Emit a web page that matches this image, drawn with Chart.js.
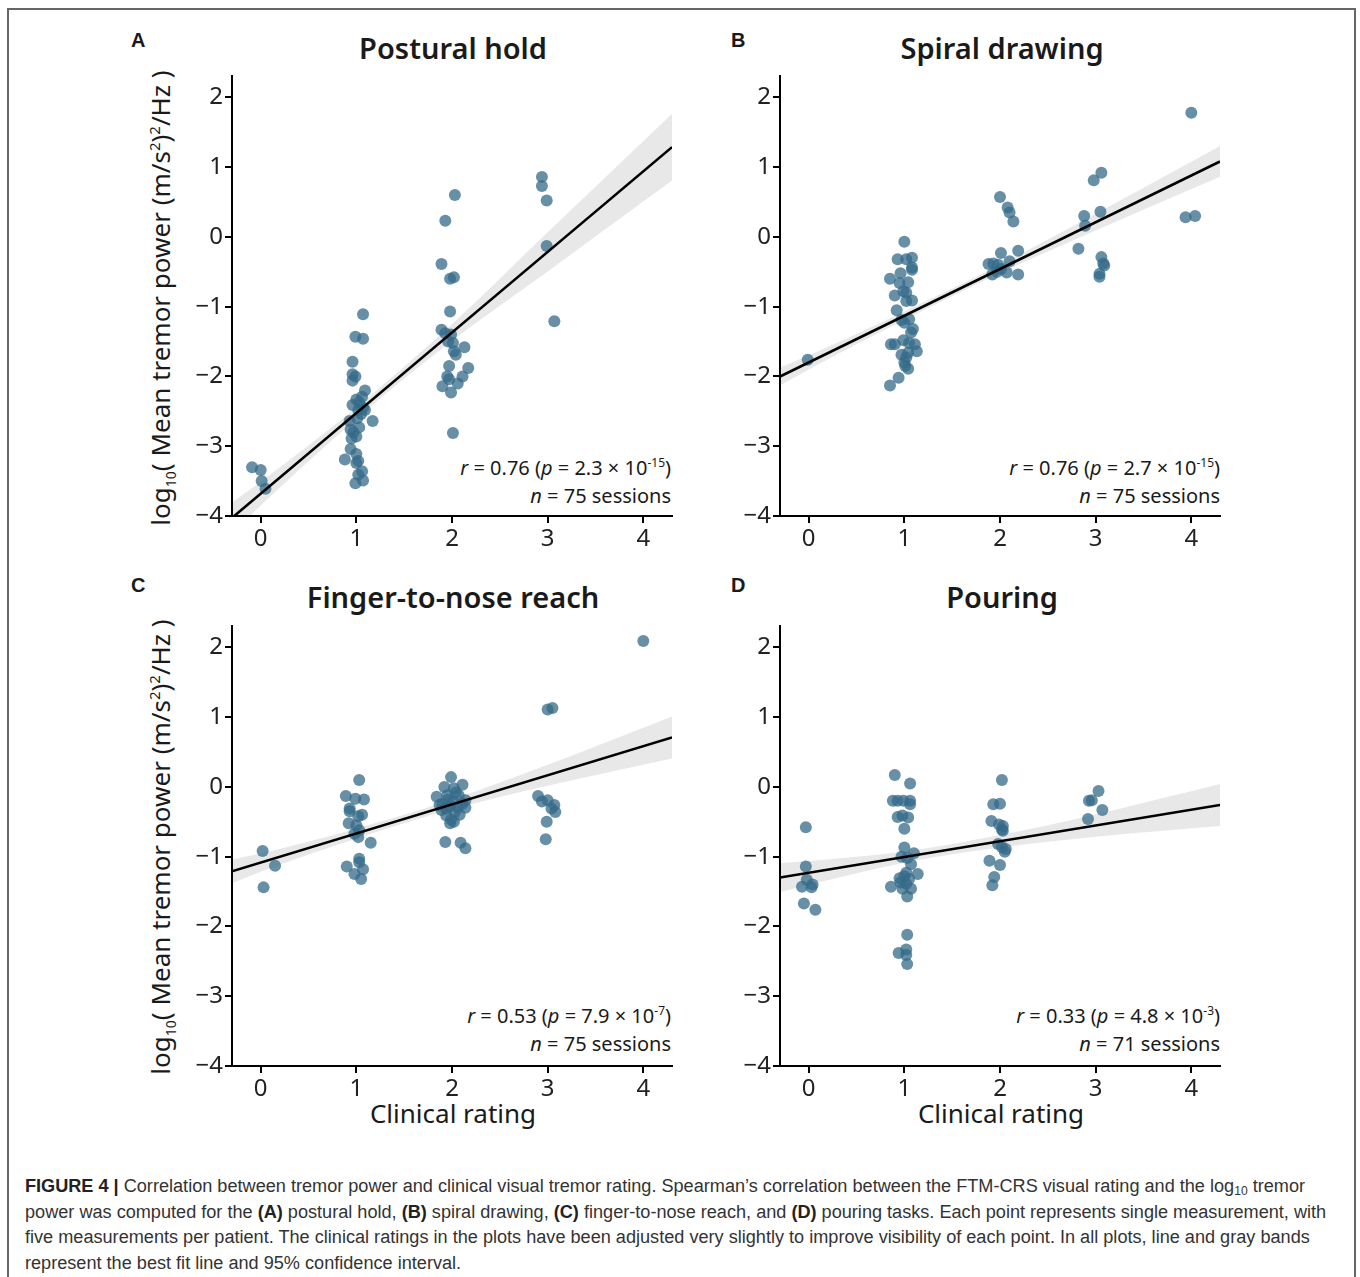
<!DOCTYPE html>
<html>
<head>
<meta charset="utf-8">
<script src="https://cdn.jsdelivr.net/npm/chart.js@4.4.1/dist/chart.umd.min.js"></script>
<style>
  body { margin:0; background:#fff; width:1360px; height:1277px; position:relative; overflow:hidden;
         font-family:"Noto Sans", sans-serif; color:#1a1a1a; }
  .frame { position:absolute; left:7px; top:8px; width:1349px; height:1300px; border:2px solid #666; box-sizing:border-box; }
  canvas { position:absolute; }
  .letter { position:absolute; font-family:"Liberation Sans", Arial, sans-serif; font-weight:bold; font-size:20px; line-height:20px; }
  .title { position:absolute; font-weight:600; font-size:29px; line-height:34px; transform:translateX(-50%); white-space:nowrap; }
  .xlabel { position:absolute; font-size:26px; line-height:30px; transform:translateX(-50%); white-space:nowrap; }
  .ylabel { position:absolute; font-size:26px; line-height:30px; white-space:nowrap; transform:translate(-50%,-50%) rotate(-90deg); }
  .ylabel sub { font-size:14px; line-height:0; vertical-align:-6px; }
  .ylabel sup { font-size:15px; line-height:0; vertical-align:10px; }
  .stat { position:absolute; font-size:20px; line-height:28px; text-align:right; white-space:nowrap; }
  .stat sup { font-size:12px; line-height:0; vertical-align:8px; }
  .caption { position:absolute; left:25px; top:1174px; font-family:"Liberation Sans Narrow","Liberation Sans",Arial,sans-serif;
             font-size:18px; line-height:25.5px; color:#333; }
  .caption div { white-space:nowrap; width:max-content; height:25.5px; transform-origin:left center; }
  .caption b { color:#222; }
  .caption sub { font-size:12px; line-height:0; vertical-align:-3px; }
</style>
</head>
<body>
<div class="frame"></div>

<div class="letter" style="left:131px;top:30px">A</div>
<div class="letter" style="left:731px;top:30px">B</div>
<div class="letter" style="left:131px;top:575px">C</div>
<div class="letter" style="left:731px;top:575px">D</div>

<div class="title" style="left:453px;top:31px">Postural hold</div>
<div class="title" style="left:1002px;top:31px">Spiral drawing</div>
<div class="title" style="left:453px;top:580px">Finger-to-nose reach</div>
<div class="title" style="left:1002px;top:580px">Pouring</div>

<div class="ylabel" style="left:160px;top:298px">log<sub>10</sub>( Mean tremor power (m/s<sup>2</sup>)<sup>2</sup>/Hz )</div>
<div class="ylabel" style="left:160px;top:847px">log<sub>10</sub>( Mean tremor power (m/s<sup>2</sup>)<sup>2</sup>/Hz )</div>

<div class="xlabel" style="left:453px;top:1098px">Clinical rating</div>
<div class="xlabel" style="left:1001px;top:1098px">Clinical rating</div>

<div class="stat" style="right:689px;top:454px"><i>r</i> = 0.76 (<i>p</i> = 2.3 × 10<sup>-15</sup>)<br><i>n</i> = 75 sessions</div>
<div class="stat" style="right:140px;top:454px"><i>r</i> = 0.76 (<i>p</i> = 2.7 × 10<sup>-15</sup>)<br><i>n</i> = 75 sessions</div>
<div class="stat" style="right:689px;top:1002px"><i>r</i> = 0.53 (<i>p</i> = 7.9 × 10<sup>-7</sup>)<br><i>n</i> = 75 sessions</div>
<div class="stat" style="right:140px;top:1002px"><i>r</i> = 0.33 (<i>p</i> = 4.8 × 10<sup>-3</sup>)<br><i>n</i> = 71 sessions</div>

<canvas id="chartA" width="540" height="516" style="left:150px;top:60px"></canvas>
<canvas id="chartB" width="540" height="516" style="left:698px;top:60px"></canvas>
<canvas id="chartC" width="540" height="516" style="left:150px;top:610px"></canvas>
<canvas id="chartD" width="540" height="516" style="left:698px;top:610px"></canvas>

<div class="caption" id="caption">
  <div><b>FIGURE 4 |</b> Correlation between tremor power and clinical visual tremor rating. Spearman’s correlation between the FTM-CRS visual rating and the log<sub>10</sub> tremor</div>
  <div>power was computed for the <b>(A)</b> postural hold, <b>(B)</b> spiral drawing, <b>(C)</b> finger-to-nose reach, and <b>(D)</b> pouring tasks. Each point represents single measurement, with</div>
  <div>five measurements per patient. The clinical ratings in the plots have been adjusted very slightly to improve visibility of each point. In all plots, line and gray bands</div>
  <div>represent the best fit line and 95% confidence interval.</div>
</div>

<script>
const FONT = '"Noto Sans", sans-serif';

// axes
const xTicks = [0, 1, 2, 3, 4];
const yTicks = [-4, -3, -2, -1, 0, 1, 2];
const bandX = [-0.3, 0, 1, 2, 3, 4.3];

// A: postural hold
const ratingA = [-0.09, 0.00, 0.01, 0.05,
  1.07, 0.99, 1.07, 0.96, 0.96, 0.99, 0.96, 1.09, 1.06, 1.00, 1.03, 0.96, 1.07, 1.02, 1.09, 1.05, 1.17, 0.93, 1.01, 1.03,
  0.94, 0.97, 1.00, 0.95, 0.94, 0.88, 1.00, 1.02, 1.00, 1.06, 1.02, 1.07, 0.99,
  2.03, 1.93, 1.89, 1.98, 2.02, 1.98, 1.89, 1.93, 1.99, 1.96, 2.01, 2.13, 2.02, 2.04, 1.97, 2.17, 2.11, 1.95, 1.97, 1.90,
  2.06, 1.99, 2.01,
  2.94, 2.94, 2.99, 2.99, 3.07];
const powerA = [-3.30, -3.34, -3.50, -3.61,
  -1.11, -1.43, -1.46, -1.79, -1.97, -2.00, -2.06, -2.20, -2.29, -2.33, -2.37, -2.41, -2.45, -2.48, -2.48, -2.54, -2.64, -2.64, -2.60, -2.73,
  -2.76, -2.80, -2.86, -2.89, -3.04, -3.19, -3.11, -3.21, -3.24, -3.36, -3.41, -3.49, -3.53,
  0.60, 0.23, -0.39, -0.60, -0.58, -1.07, -1.33, -1.38, -1.40, -1.50, -1.52, -1.58, -1.64, -1.69, -1.85, -1.88, -2.00, -2.00, -2.04, -2.14,
  -2.10, -2.23, -2.81,
  0.86, 0.73, 0.52, -0.13, -1.21];
const fitA = [-3.68, 1.155];   // intercept, slope
const bandA = [0.22, 0.17, 0.08, 0.12, 0.28, 0.48];

// B: spiral drawing
const ratingB = [-0.01,
  1.00, 0.93, 1.02, 1.08, 1.08, 1.08, 0.85, 0.96, 1.04, 0.95, 0.90, 0.99, 1.02, 1.02, 1.08, 0.92, 0.97, 1.05, 1.00, 1.09,
  1.07, 0.86, 0.90, 0.99, 1.05, 1.11, 0.97, 1.04, 1.13, 1.02, 1.00, 1.04, 1.01, 0.94, 0.85,
  2.00, 2.08, 2.10, 2.14, 2.01, 2.19, 1.88, 1.93, 1.98, 2.10, 2.01, 1.92, 2.07, 2.19, 1.97,
  3.06, 2.98, 3.05, 2.88, 2.89, 2.82, 3.06, 3.08, 3.09, 3.04, 3.04,
  4.00, 3.94, 4.04];
const powerB = [-1.76,
  -0.07, -0.32, -0.32, -0.30, -0.47, -0.44, -0.60, -0.52, -0.65, -0.66, -0.84, -0.78, -0.80, -0.92, -0.91, -1.05, -1.19, -1.18, -1.23, -1.32,
  -1.37, -1.54, -1.54, -1.48, -1.52, -1.54, -1.69, -1.66, -1.64, -1.73, -1.80, -1.89, -1.85, -2.02, -2.13,
  0.57, 0.42, 0.35, 0.22, -0.23, -0.20, -0.39, -0.38, -0.40, -0.35, -0.46, -0.54, -0.51, -0.54, -0.50,
  0.92, 0.81, 0.36, 0.30, 0.16, -0.17, -0.29, -0.38, -0.41, -0.53, -0.57,
  1.78, 0.28, 0.30];
const fitB = [-1.80, 0.67];
const bandB = [0.13, 0.10, 0.06, 0.06, 0.12, 0.22];

// C: finger-to-nose reach
const ratingC = [0.02, 0.15, 0.03,
  1.03, 0.89, 0.99, 1.08, 0.93, 0.93, 1.06, 1.02, 0.92, 1.00, 1.03, 0.98, 1.02, 1.15, 0.90, 1.03, 1.03, 1.07, 0.98, 1.05,
  1.99, 1.92, 2.11, 2.02, 1.84, 1.95, 2.07, 2.14, 1.90, 2.01, 2.11, 1.87, 1.98, 2.06, 1.94, 2.14, 2.03, 1.94, 1.99, 1.98,
  2.02, 1.93, 2.09, 2.14, 1.96, 2.04, 1.89, 2.08,
  3.00, 3.05, 2.90, 2.94, 3.00, 3.07, 3.08, 3.04, 2.99, 2.98,
  4.00];
const powerC = [-0.92, -1.13, -1.44,
  0.10, -0.13, -0.17, -0.18, -0.31, -0.35, -0.40, -0.42, -0.52, -0.55, -0.62, -0.67, -0.72, -0.80, -1.14, -1.03, -1.08, -1.18, -1.25, -1.32,
  0.14, 0.00, 0.03, -0.02, -0.14, -0.12, -0.12, -0.19, -0.24, -0.21, -0.24, -0.26, -0.28, -0.29, -0.31, -0.30, -0.36, -0.41, -0.47, -0.52,
  -0.50, -0.79, -0.80, -0.88, -0.18, -0.08, -0.33, -0.40,
  1.11, 1.13, -0.13, -0.21, -0.19, -0.26, -0.36, -0.31, -0.50, -0.75,
  2.09];
const fitC = [-1.085, 0.417];
const bandC = [0.17, 0.13, 0.07, 0.07, 0.15, 0.30];

// D: pouring
const ratingD = [-0.03, -0.03, -0.02, -0.07, 0.03, 0.04, -0.05, 0.07,
  0.90, 1.06, 0.88, 0.93, 0.99, 1.06, 1.06, 0.93, 1.04, 0.98, 1.00, 1.00, 1.10, 0.97, 1.03, 1.07, 1.02, 1.14, 0.95, 1.00,
  1.05, 0.96, 1.02, 0.86, 0.98, 1.07, 1.03, 1.03, 0.94, 1.02, 1.02, 1.03,
  2.02, 1.93, 2.00, 1.91, 1.99, 2.03, 2.02, 2.03, 1.98, 2.02, 2.05, 2.06, 1.89, 2.00, 1.94, 1.92,
  3.03, 2.93, 2.96, 3.07, 2.92];
const powerD = [-0.58, -1.14, -1.33, -1.43, -1.44, -1.40, -1.67, -1.76,
  0.17, 0.05, -0.20, -0.20, -0.20, -0.20, -0.25, -0.43, -0.44, -0.41, -0.60, -0.87, -0.95, -1.00, -1.02, -1.11, -1.23, -1.25, -1.31, -1.28,
  -1.32, -1.37, -1.39, -1.43, -1.46, -1.46, -1.57, -2.12, -2.38, -2.33, -2.41, -2.54,
  0.10, -0.25, -0.24, -0.49, -0.54, -0.56, -0.61, -0.63, -0.82, -0.86, -0.93, -0.89, -1.06, -1.12, -1.29, -1.41,
  -0.06, -0.20, -0.19, -0.33, -0.46];
const fitD = [-1.232, 0.226];
const bandD = [0.21, 0.17, 0.08, 0.09, 0.16, 0.30];

const minus = v => (v < 0 ? '\u2212' + Math.abs(v) : String(v));

function axis(ticks, extra) {
  return Object.assign({
    type: 'linear',
    afterBuildTicks: s => { s.ticks = ticks.map(v => ({ value: v })); },
    ticks: { font: { family: FONT, size: 24 }, color: '#222', callback: minus, maxRotation: 0, padding: 2 },
    grid: { drawOnChartArea: false, drawTicks: true, tickLength: 7, color: '#000', lineWidth: 2 },
    border: { display: true, color: '#000', width: 2 },
  }, extra);
}

function makePanel(id, rating, power, fit, half) {
  const fy = x => fit[0] + fit[1] * x;
  const pts = rating.map((x, i) => ({ x, y: power[i] }));
  const upper = bandX.map((x, i) => ({ x, y: fy(x) + half[i] }));
  const lower = bandX.map((x, i) => ({ x, y: fy(x) - half[i] }));
  const fitLine = [bandX[0], bandX[bandX.length - 1]].map(x => ({ x, y: fy(x) }));

  new Chart(document.getElementById(id), {
    type: 'scatter',
    data: {
      datasets: [
        { data: fitLine, showLine: true, borderColor: '#000', borderWidth: 2.6, pointRadius: 0, order: 0 },
        { data: pts, backgroundColor: 'rgba(52,106,136,0.75)', pointRadius: 6, borderWidth: 0, order: 1 },
        { data: upper, showLine: true, borderColor: 'transparent', borderWidth: 0, pointRadius: 0,
          fill: false, cubicInterpolationMode: 'monotone', order: 2 },
        { data: lower, showLine: true, borderColor: 'transparent', borderWidth: 0, pointRadius: 0,
          fill: '-1', backgroundColor: 'rgba(0,0,0,0.09)', cubicInterpolationMode: 'monotone', order: 2 },
      ],
    },
    options: {
      responsive: false, animation: false,
      layout: { padding: { top: 15, right: 18, left: 0, bottom: 0 } },
      plugins: { legend: { display: false }, tooltip: { enabled: false } },
      scales: {
        x: axis(xTicks, { min: -0.3, max: 4.3, afterFit: s => { s.height = 60; } }),
        y: axis(yTicks, { min: -4, max: 2.3, afterFit: s => { s.width = 82; } }),
      },
    },
  });
}

makePanel('chartA', ratingA, powerA, fitA, bandA);
makePanel('chartB', ratingB, powerB, fitB, bandB);
makePanel('chartC', ratingC, powerC, fitC, bandC);
makePanel('chartD', ratingD, powerD, fitD, bandD);

// squeeze caption to the condensed width of the original
const cap = document.getElementById('caption');
const k = 1280 / cap.children[0].getBoundingClientRect().width;
for (const line of cap.children) line.style.transform = 'scaleX(' + k + ')';
</script>
</body>
</html>
